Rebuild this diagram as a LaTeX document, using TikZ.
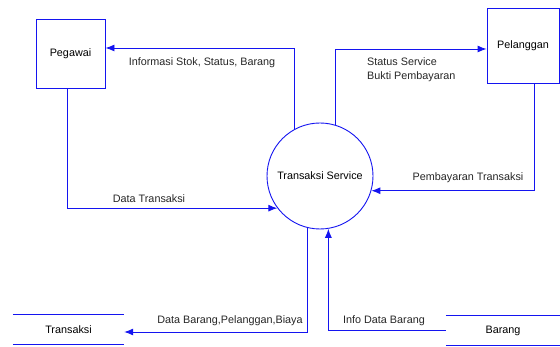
\documentclass[tikz,border=0pt]{standalone}
\usepackage{fontspec}
\setmainfont{Liberation Sans}
\usetikzlibrary{arrows.meta}
\definecolor{dfd}{RGB}{20,20,240}
\tikzset{
  entity/.style={draw=dfd, line width=0.9pt, minimum width=69pt, minimum height=69pt, inner sep=0pt, font=\fontsize{10.8}{14}\selectfont},
  process/.style={draw=dfd, circle, line width=0.9pt, minimum size=106pt, inner sep=0pt, font=\fontsize{10.8}{14}\selectfont},
  store/.style={minimum width=111pt, minimum height=29pt, inner sep=0pt, font=\fontsize{10.8}{14}\selectfont},
  storeline/.style={draw=dfd, line width=0.9pt},
  flow/.style={draw=dfd, line width=0.9pt, -{Latex[length=9pt,width=7pt]}},
  lbl/.style={font=\fontsize{10.8}{14}\selectfont, inner sep=0pt, text=black!85},
}
\begin{document}
\begin{tikzpicture}[x=1pt,y=-1pt]
\useasboundingbox (0,0) rectangle (560,347);
% nodes
\node[entity] (peg) at (70.5,53.5) {Pegawai};
\node[entity, minimum width=72pt, minimum height=75pt] (pel) at (523,45.5) {Pelanggan};
\node[process] (proc) at (320,176) {Transaksi Service};
\node[store] (trans) at (68.5,329.5) {Transaksi};
\draw[storeline] (trans.north west) -- (trans.north east);
\draw[storeline] (trans.south west) -- (trans.south east);
\node[store, minimum width=114pt] (bar) at (503,330.5) {Barang};
\draw[storeline] (bar.north west) -- (bar.north east);
\draw[storeline] (bar.south west) -- (bar.south east);
% flows
\draw[flow] (proc.118) |- ([yshift=5.5pt]peg.east);
\draw[flow] (proc.73) |- ([yshift=-3.5pt]pel.west);
\draw[flow] ([xshift=11pt]pel.south) |- (proc.-16);
\draw[flow] ([xshift=-3.5pt]peg.south) |- (proc.217);
\draw[flow] (proc.256) |- ([yshift=-2.5pt]trans.east);
\draw[flow] (bar.west) -| (proc.279);
% labels
\node[lbl] (l1) at (202,63) {Informasi Stok, Status, Barang};
\node[lbl, anchor=west, align=left] (l2) at (367,70) {Status Service\\Bukti Pembayaran};
\node[lbl] (l3) at (468,178) {Pembayaran Transaksi};
\node[lbl] (l4) at (149,199) {Data Transaksi};
\node[lbl] (l5) at (230,321) {Data Barang,Pelanggan,Biaya};
\node[lbl] (l6) at (384,321) {Info Data Barang};
\end{tikzpicture}
\end{document}
